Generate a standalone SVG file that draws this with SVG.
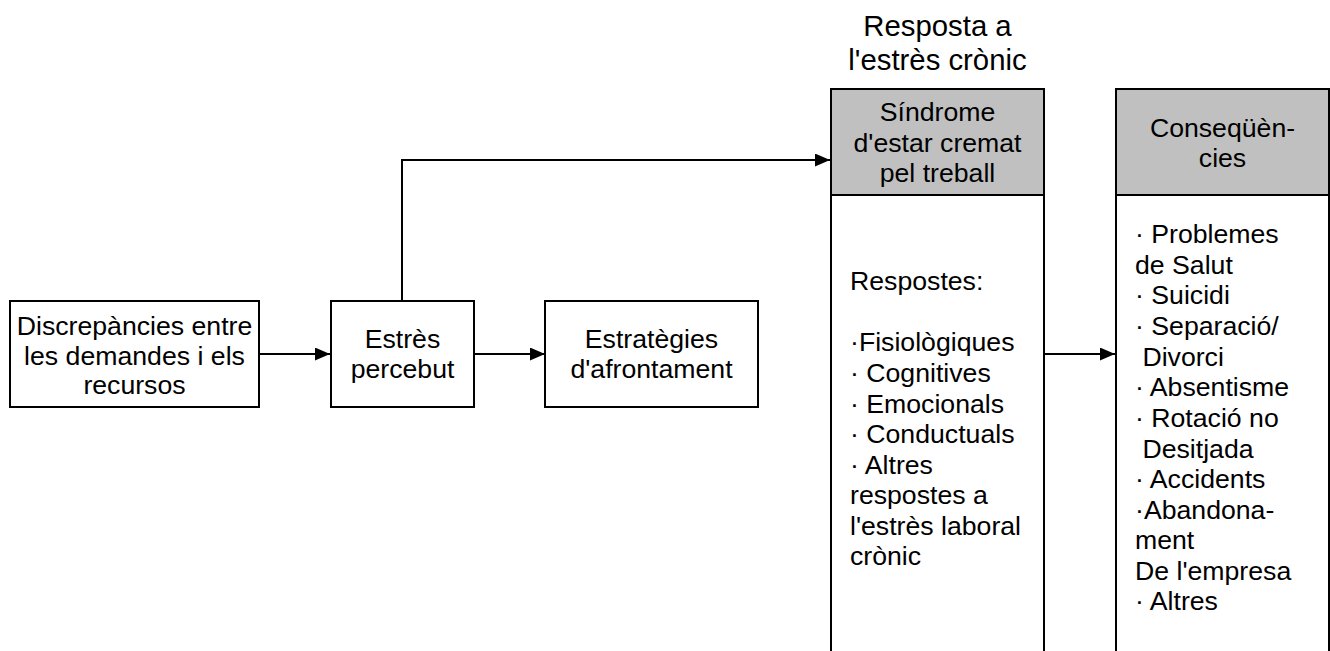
<svg xmlns="http://www.w3.org/2000/svg" width="1330" height="651" viewBox="0 0 1330 651">
<defs>
<style>
.box{fill:#ffffff;stroke:#000000;stroke-width:2}
.hdr{fill:#c0c0c0;stroke:#000000;stroke-width:2}
.t{font-family:"Liberation Sans",Arial,sans-serif;font-size:26.67px;fill:#000000}
.c{text-anchor:middle}
.h{font-family:"Liberation Sans",Arial,sans-serif;font-size:29.33px;fill:#000000;text-anchor:middle}
.ln{fill:none;stroke:#000000;stroke-width:2}
</style>
<marker id="arr" markerUnits="userSpaceOnUse" markerWidth="15" markerHeight="13" refX="15" refY="6.5" orient="auto">
<path d="M0,0 L15,6.5 L0,13 z" fill="#000000"/>
</marker>
</defs>
<rect width="1330" height="651" fill="#ffffff"/>

<g id="title">
<text class="h" x="937.5" y="36">Resposta a</text>
<text class="h" x="937.5" y="70">l'estrès crònic</text>
</g>

<g id="node-discrepancies">
<rect class="box" x="10" y="301" width="249" height="106"/>
<text class="t c" x="134.5" y="335">Discrepàncies entre</text>
<text class="t c" x="134.5" y="364.5">les demandes i els</text>
<text class="t c" x="134.5" y="394">recursos</text>
</g>

<g id="node-estres">
<rect class="box" x="331" y="301" width="143" height="106"/>
<text class="t c" x="402.5" y="348">Estrès</text>
<text class="t c" x="402.5" y="378">percebut</text>
</g>

<g id="node-estrategies">
<rect class="box" x="545" y="301" width="213" height="106"/>
<text class="t c" x="651.5" y="348">Estratègies</text>
<text class="t c" x="651.5" y="378">d'afrontament</text>
</g>

<g id="node-sindrome">
<rect class="box" x="831" y="195" width="213" height="470"/>
<rect class="hdr" x="831" y="89" width="213" height="106"/>
<text class="t c" x="937.5" y="121">Síndrome</text>
<text class="t c" x="937.5" y="151.5">d'estar cremat</text>
<text class="t c" x="937.5" y="182">pel treball</text>
<text class="t" x="850" y="290">Respostes:</text>
<text class="t" x="850" y="351">·Fisiològiques</text>
<text class="t" x="850" y="382">· Cognitives</text>
<text class="t" x="850" y="412.5">· Emocionals</text>
<text class="t" x="850" y="443">· Conductuals</text>
<text class="t" x="850" y="473.5">· Altres</text>
<text class="t" x="850" y="504">respostes a</text>
<text class="t" x="850" y="534.5">l'estrès laboral</text>
<text class="t" x="850" y="565">crònic</text>
</g>

<g id="node-consequencies">
<rect class="box" x="1116" y="195" width="213" height="470"/>
<rect class="hdr" x="1116" y="89" width="213" height="106"/>
<text class="t c" x="1222.5" y="136.5">Conseqüèn-</text>
<text class="t c" x="1222.5" y="166.5">cies</text>
<text class="t" x="1135" y="243">· Problemes</text>
<text class="t" x="1135" y="273.5">de Salut</text>
<text class="t" x="1135" y="304">· Suicidi</text>
<text class="t" x="1135" y="335">· Separació/</text>
<text class="t" x="1135" y="365.5" xml:space="preserve"> Divorci</text>
<text class="t" x="1135" y="396">· Absentisme</text>
<text class="t" x="1135" y="427">· Rotació no</text>
<text class="t" x="1135" y="457.5" xml:space="preserve"> Desitjada</text>
<text class="t" x="1135" y="488">· Accidents</text>
<text class="t" x="1135" y="518.5">·Abandona-</text>
<text class="t" x="1135" y="549">ment</text>
<text class="t" x="1135" y="579.5">De l'empresa</text>
<text class="t" x="1135" y="610">· Altres</text>
</g>

<g id="connectors">
<path class="ln" d="M259,354 H330" marker-end="url(#arr)"/>
<path class="ln" d="M474,354 H545" marker-end="url(#arr)"/>
<path class="ln" d="M402,301 V160 H830" marker-end="url(#arr)"/>
<path class="ln" d="M1044,354 H1115" marker-end="url(#arr)"/>
</g>
</svg>
